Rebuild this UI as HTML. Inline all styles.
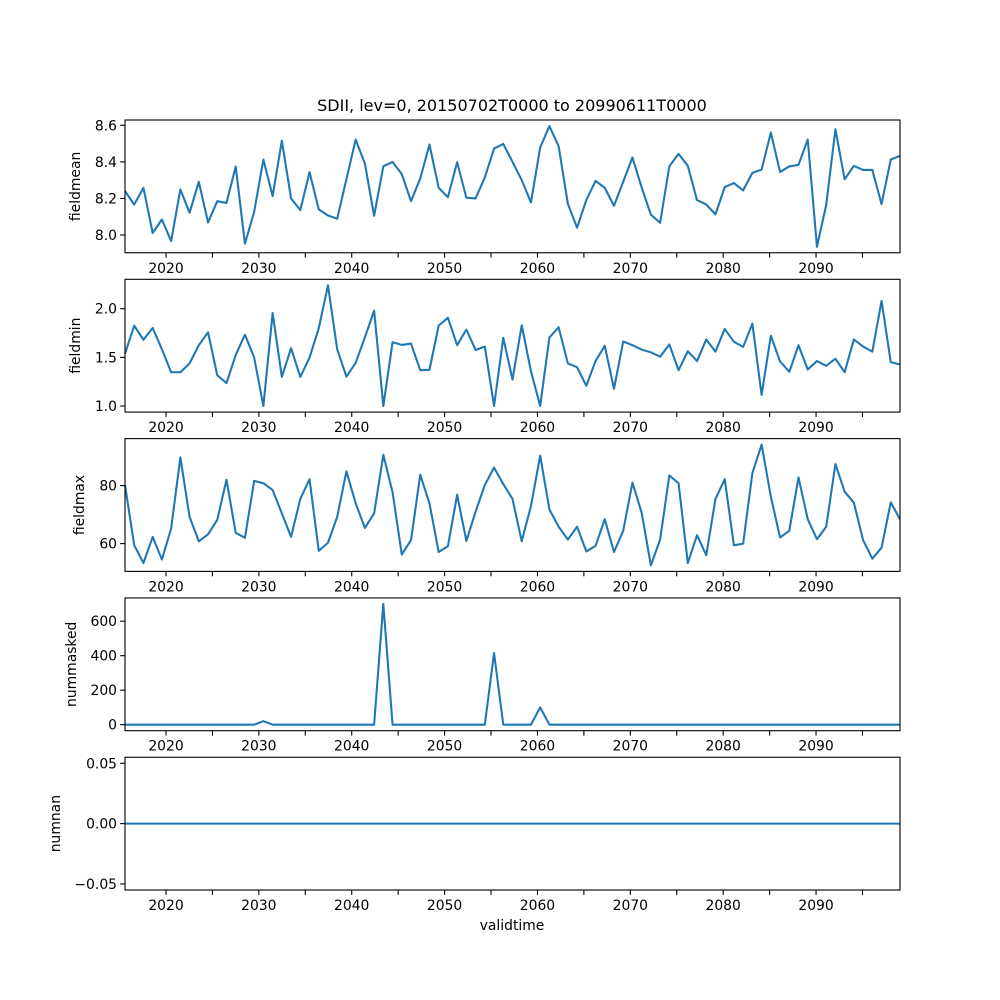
<!DOCTYPE html>
<html><head><meta charset="utf-8"><style>
body{margin:0;background:#fff;}
svg{display:block;font-family:"DejaVu Sans","Liberation Sans",sans-serif;}
</style></head><body>
<svg id="fig" width="1000" height="1000" xmlns="http://www.w3.org/2000/svg">
<text x="512" y="111" font-size="16" text-anchor="middle">SDII, lev=0, 20150702T0000 to 20990611T0000</text>
<text x="512" y="930" font-size="13.9" text-anchor="middle">validtime</text>
</svg>
<script>
const fieldmean=[8.24,8.167,8.258,8.011,8.085,7.967,8.249,8.122,8.291,8.069,8.185,8.175,8.375,7.953,8.127,8.413,8.213,8.516,8.2,8.136,8.344,8.14,8.107,8.089,8.305,8.522,8.391,8.105,8.376,8.4,8.333,8.185,8.309,8.495,8.258,8.207,8.398,8.204,8.2,8.315,8.473,8.498,8.4,8.3,8.178,8.478,8.596,8.485,8.171,8.04,8.191,8.296,8.258,8.16,8.291,8.424,8.26,8.111,8.067,8.376,8.444,8.378,8.191,8.167,8.113,8.262,8.284,8.244,8.34,8.358,8.56,8.345,8.375,8.384,8.522,7.936,8.164,8.578,8.305,8.378,8.356,8.356,8.169,8.413,8.433];
const fieldmin=[1.538,1.826,1.681,1.802,1.583,1.347,1.347,1.438,1.625,1.757,1.316,1.236,1.524,1.733,1.497,1.0,1.955,1.299,1.594,1.299,1.497,1.799,2.24,1.583,1.302,1.444,1.705,1.98,1.0,1.656,1.628,1.642,1.368,1.372,1.826,1.906,1.625,1.785,1.576,1.611,1.0,1.701,1.271,1.83,1.358,1.0,1.705,1.809,1.438,1.399,1.208,1.462,1.618,1.177,1.663,1.625,1.58,1.552,1.507,1.632,1.368,1.563,1.462,1.684,1.559,1.792,1.66,1.608,1.847,1.115,1.722,1.458,1.351,1.625,1.375,1.462,1.413,1.486,1.347,1.684,1.611,1.559,2.08,1.451,1.427];
const fieldmax=[80.2,59.4,53.3,62.3,54.5,65.2,89.7,69.2,60.8,63.2,68.2,82.0,63.7,62.0,81.6,80.8,78.5,70.4,62.3,75.4,82.2,57.5,60.3,69.2,84.9,73.9,65.4,70.4,90.6,77.7,56.2,61.2,83.7,73.9,57.1,59.1,76.8,60.9,71.0,80.2,86.2,80.5,75.4,60.8,72.9,90.3,71.8,65.8,61.4,65.8,57.3,59.2,68.4,57.1,64.4,81.0,70.6,52.5,61.4,83.5,80.8,53.3,62.9,56.0,75.4,82.2,59.4,60.0,84.3,94.1,76.2,62.1,64.4,82.8,68.4,61.5,65.8,87.4,77.9,74.1,61.2,54.8,58.6,74.2,68.4];
const nummasked=[0,0,0,0,0,0,0,0,0,0,0,0,0,0,0,20,0,0,0,0,0,0,0,0,0,0,0,0,700,0,0,0,0,0,0,0,0,0,0,0,415,0,0,0,0,100,0,0,0,0,0,0,0,0,0,0,0,0,0,0,0,0,0,0,0,0,0,0,0,0,0,0,0,0,0,0,0,0,0,0,0,0,0,0,0];
const numnan=new Array(85).fill(0);
const xTickYears=[2020,2030,2040,2050,2060,2070,2080,2090];
const xMinorYears=[2025,2035,2045,2055,2065,2075,2085,2095];
const panelNames=["fieldmean","fieldmin","fieldmax","nummasked","numnan"];
const panelSeries=[fieldmean,fieldmin,fieldmax,nummasked,numnan];
const panelTicks=[[8.0,8.2,8.4,8.6],[1.0,1.5,2.0],[60,80],[0,200,400,600],[-0.05,0,0.05]];
const panelTickLabels=[["8.0","8.2","8.4","8.6"],["1.0","1.5","2.0"],["60","80"],["0","200","400","600"],["−0.05","0.00","0.05"]];
const NS="http://www.w3.org/2000/svg";
const svg=document.getElementById('fig');
const L=125,R=900,top0=120,H=132.76,GAP=26.55;
const YR0=2015.585,YR1=2099.04;
function xYear(y){return L+(y-YR0)/(YR1-YR0)*(R-L);}
function mk(tag,attrs,parent){const e=document.createElementNS(NS,tag);for(const k in attrs)e.setAttribute(k,attrs[k]);(parent||svg).appendChild(e);return e;}
const ylabX=[80,80,84,76,60];
panelSeries.forEach((data,p)=>{
  const T=top0+p*(H+GAP),B=T+H;
  let mn=Math.min(...data),mx=Math.max(...data);
  let lo,hi;
  if(mx===mn){lo=mn-0.055;hi=mx+0.055;}else{const m=(mx-mn)*0.05;lo=mn-m;hi=mx+m;}
  const yS=v=>B-(v-lo)/(hi-lo)*H;
  const xI=i=>L+i/(data.length-1)*(R-L);
  const g=mk('g',{});
  
  
  let d='';data.forEach((v,i)=>{d+=(i?'L':'M')+xI(i).toFixed(2)+' '+yS(v).toFixed(2);});
  const line=mk('path',{d:d,fill:'none',stroke:'#1f77b4','stroke-width':2.08,'stroke-linejoin':'round'},g);
  
  
  const frame=mk('rect',{x:L,y:T,width:R-L,height:H,fill:'none',stroke:'#000','stroke-width':1.1},g);
  
  
  panelTicks[p].forEach((t,k)=>{
    const y=yS(t);
    mk('line',{x1:L-4.9,x2:L,y1:y,y2:y,stroke:'#000','stroke-width':1.1},g);
    const tx=mk('text',{x:L-8,y:y+5,'font-size':13.9,'text-anchor':'end'},g);
    tx.textContent=panelTickLabels[p][k];
    
    
  });
  xTickYears.concat(xMinorYears).forEach(yr=>{
    const x=xYear(yr);
    mk('line',{x1:x,x2:x,y1:B,y2:B+4.9,stroke:'#000','stroke-width':1.1},g);
  });
  xTickYears.forEach(yr=>{
    const tx=mk('text',{x:xYear(yr),y:B+20,'font-size':13.9,'text-anchor':'middle'},g);
    tx.textContent=String(yr);
    
    
  });
  const yl=mk('text',{x:ylabX[p],y:(T+B)/2,'font-size':13.9,'text-anchor':'middle',transform:'rotate(-90 '+ylabX[p]+' '+((T+B)/2)+')'},g);
  yl.textContent=panelNames[p];
  
  
});
</script>
</body></html>
